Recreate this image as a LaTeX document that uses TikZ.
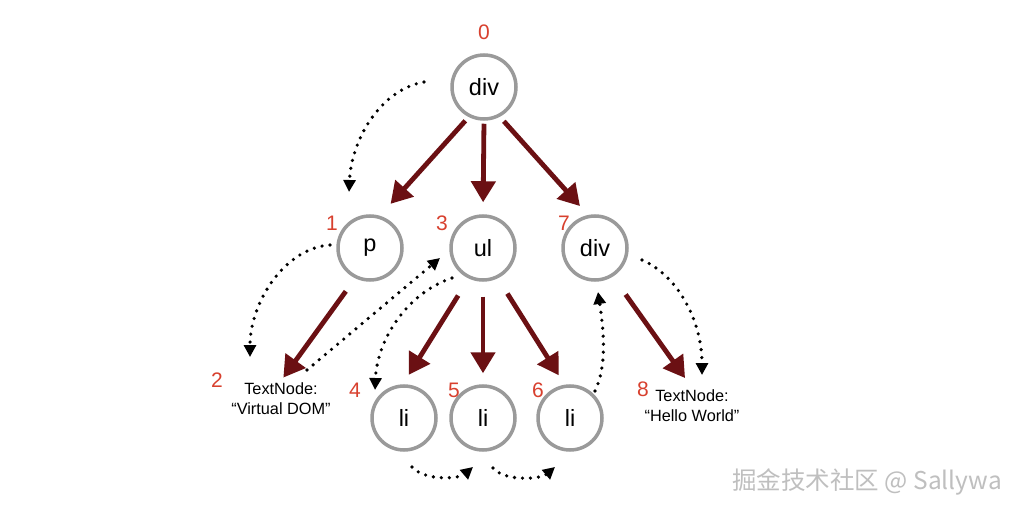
\documentclass[tikz,border=0pt]{standalone}
\usepackage{fontspec}
\setmainfont{Liberation Sans}
\newfontfamily\cjk{Noto Sans CJK SC}
\usetikzlibrary{arrows.meta,calc}
\definecolor{ringgray}{HTML}{9A9A9A}
\definecolor{arrowred}{HTML}{6B1013}
\definecolor{numred}{HTML}{D8402E}
\begin{document}
\begin{tikzpicture}[x=1pt,y=-1pt,
 ring/.style={circle, draw=ringgray, line width=3.5pt, minimum size=64pt, inner sep=0pt, font=\fontsize{23.5}{26}\selectfont},
 num/.style={text=numred, font=\fontsize{21}{24}\selectfont, inner sep=0pt},
 tnode/.style={align=center, font=\fontsize{16.3}{20}\selectfont, inner sep=2pt},
 tree/.style={draw=arrowred, line width=4.8pt, -{Triangle[length=21pt,width=24pt]}},
 walk/.style={draw=black, line width=3.6pt, line cap=round, dash pattern=on 0pt off 8pt, -{Triangle[length=12pt,width=12pt]}},
]
\fill[white] (0,0) rectangle (1018,513);
\useasboundingbox (0,0) rectangle (1018,513);

\node[ring] (n0) at (484,87) {div};
\node[ring] (n1) at (370,248) {p};
\node[ring] (n3) at (483,248) {ul};
\node[ring] (n7) at (595,248) {div};
\node[ring] (n4) at (404,418) {li};
\node[ring] (n5) at (483,418) {li};
\node[ring] (n6) at (570,418) {li};
\node[tnode] (n2) at (281,399) {TextNode:\\“Virtual DOM”};
\node[tnode] (n8) at (692,406) {TextNode:\\“Hello World”};

\node[num] (l0) at (484,32) {0};
\node[num] (l1) at (332,223) {1};
\node[num] (l3) at (442,223) {3};
\node[num] (l7) at (564,223) {7};
\node[num] (l2) at (217,380) {2};
\node[num] (l4) at (355,390) {4};
\node[num] (l5) at (454,390) {5};
\node[num] (l6) at (538,390) {6};
\node[num] (l8) at (643,389) {8};

\draw[tree, shorten <=5pt, shorten >=16pt] (n0.243) -- (n1.73);
\draw[tree, shorten <=3pt, shorten >=12pt] (n0.270) -- (n3.90);
\draw[tree, shorten <=6pt, shorten >=12pt] (n0.298) -- (n7.102);
\draw[tree, shorten <=16pt, shorten >=4pt] (n1.244) -- (n2.north);
\draw[tree, shorten <=20pt, shorten >=11pt] (n3.245) -- (n4.92);
\draw[tree, shorten <=15pt, shorten >=11pt] (n3.270) -- (n5.90);
\draw[tree, shorten <=18pt, shorten >=11pt] (n3.296) -- (n6.99);
\draw[tree, shorten <=22pt, shorten >=12pt] (n7.302) -- (n8.north);

\draw[walk] ($(n0)+(-60,-5)$) .. controls +(-45,8) and +(2,-50) .. ($(n1)+(-21,-56)$);
\draw[walk] ($(n1)+(-40,-3)$) .. controls +(-45,3) and +(0,-55) .. ($(n2)+(-31,-42)$);
\draw[walk] ($(n2)+(26,-29)$) -- ($(n3)+(-43,10)$);
\draw[walk] ($(n3)+(-31,30)$) .. controls +(-45,15) and +(2,-50) .. ($(n4)+(-29,-28)$);
\draw[walk] ($(n4)+(8,49)$) .. controls +(12,14) and +(-14,12) .. ($(n5)+(-10,49)$);
\draw[walk] ($(n5)+(10,50)$) .. controls +(12,14) and +(-14,12) .. ($(n6)+(-15,49)$);
\draw[walk] ($(n6)+(25,-27)$) .. controls +(12,-25) and +(6,40) .. ($(n7)+(3,44)$);
\draw[walk] ($(n7)+(47,12)$) .. controls +(35,15) and +(0,-55) .. ($(n8)+(10,-31)$);

\node[text=black!25, font=\cjk\fontsize{24.5}{28}\selectfont, anchor=east, inner sep=0pt] (wm) at (1002,482) {掘金技术社区 @ Sallywa};
\end{tikzpicture}
\end{document}
